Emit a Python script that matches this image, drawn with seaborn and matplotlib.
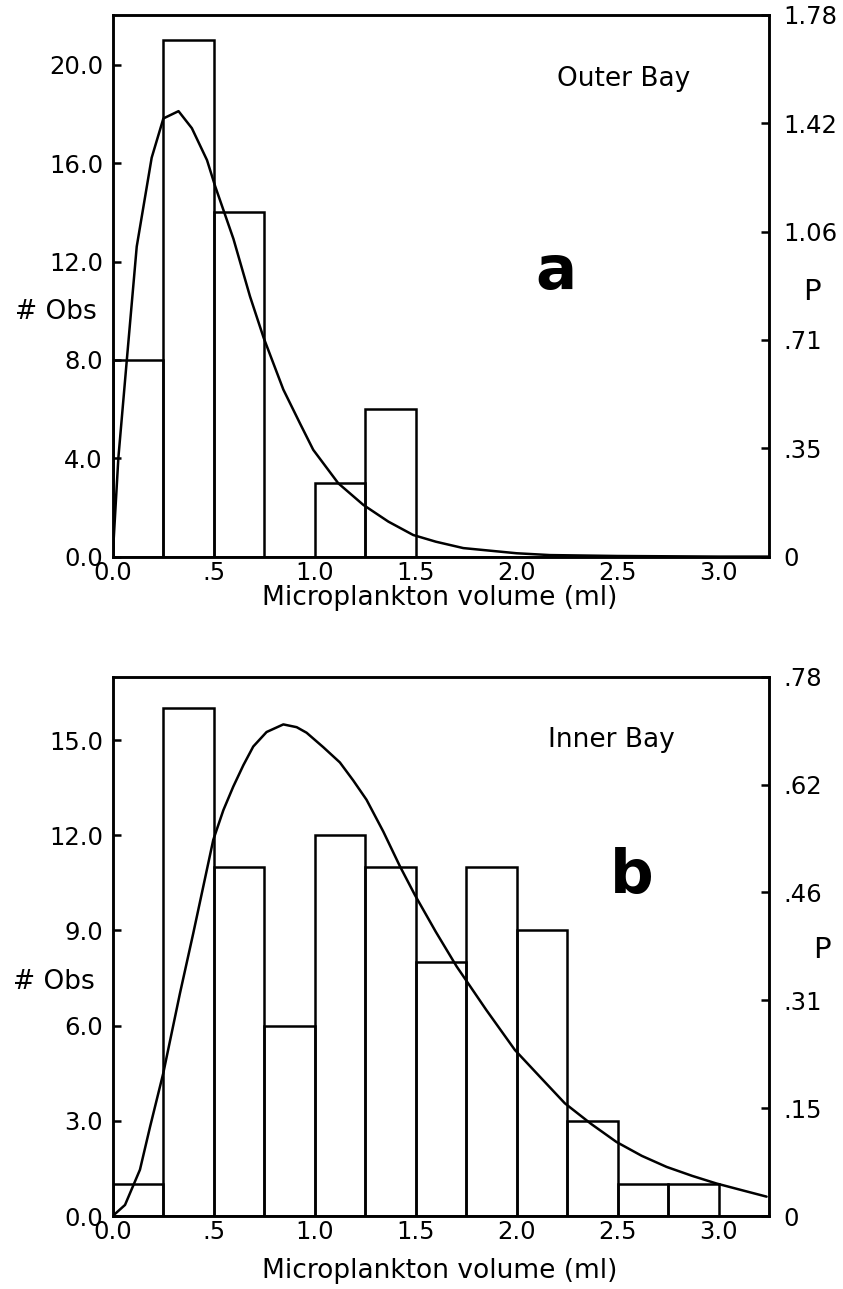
import numpy as np
import pandas as pd
import matplotlib
matplotlib.use("Agg")
import matplotlib.pyplot as plt
import seaborn as sns

# ---------------- data ----------------
bin_edges = [0.0, 0.25, 0.5, 0.75, 1.0, 1.25, 1.5, 1.75, 2.0, 2.25, 2.5, 2.75, 3.0, 3.25]
bin_centers = [0.125, 0.375, 0.625, 0.875, 1.125, 1.375, 1.625, 1.875, 2.125, 2.375, 2.625, 2.875, 3.125]

outer_counts = [8, 21, 14, 0, 3, 6, 0, 0, 0, 0, 0, 0, 0]
inner_counts = [1, 16, 11, 6, 12, 11, 8, 11, 9, 3, 1, 1, 0]

outer_curve_x = [0.0, 0.028, 0.07, 0.119, 0.193, 0.251, 0.326, 0.392, 0.467, 0.507, 0.598, 0.68,
                 0.747, 0.845, 0.928, 0.993, 1.117, 1.241, 1.365, 1.488, 1.6, 1.736, 2.0, 2.165,
                 2.5, 3.0, 3.25]
outer_curve_p = [0.0, 0.324, 0.647, 1.019, 1.311, 1.440, 1.464, 1.408, 1.303, 1.218, 1.044, 0.855,
                 0.720, 0.549, 0.437, 0.351, 0.241, 0.170, 0.115, 0.071, 0.049, 0.028, 0.011, 0.005,
                 0.002, 0.0, 0.0]

inner_curve_x = [0.0, 0.061, 0.135, 0.185, 0.25, 0.333, 0.399, 0.498, 0.548, 0.597, 0.647, 0.696,
                 0.762, 0.845, 0.911, 0.96, 1.043, 1.125, 1.191, 1.257, 1.340, 1.422, 1.497, 1.6,
                 1.703, 1.85, 1.992, 2.12, 2.239, 2.37, 2.495, 2.62, 2.743, 2.87, 2.99, 3.12, 3.238]
inner_curve_p = [0.0, 0.016, 0.067, 0.129, 0.206, 0.322, 0.409, 0.544, 0.587, 0.621, 0.652, 0.679,
                 0.700, 0.711, 0.707, 0.699, 0.678, 0.656, 0.630, 0.602, 0.556, 0.506, 0.464, 0.411,
                 0.361, 0.298, 0.240, 0.200, 0.163, 0.133, 0.107, 0.087, 0.071, 0.058, 0.047, 0.037,
                 0.028]

x_ticks = [0.0, 0.5, 1.0, 1.5, 2.0, 2.5, 3.0]
x_ticklabels = ["0.0", ".5", "1.0", "1.5", "2.0", "2.5", "3.0"]

outer_left_ticks = [0, 4, 8, 12, 16, 20]
outer_left_labels = ["0.0", "4.0", "8.0", "12.0", "16.0", "20.0"]
outer_right_ticks = [0, 0.356, 0.712, 1.068, 1.424, 1.78]
outer_right_labels = ["0", ".35", ".71", "1.06", "1.42", "1.78"]

inner_left_ticks = [0, 3, 6, 9, 12, 15]
inner_left_labels = ["0.0", "3.0", "6.0", "9.0", "12.0", "15.0"]
inner_right_ticks = [0, 0.156, 0.312, 0.468, 0.624, 0.78]
inner_right_labels = ["0", ".15", ".31", ".46", ".62", ".78"]

# ---------------- style ----------------
sns.set_theme(style="white")
plt.rcParams["font.family"] = ["DejaVu Sans"]

W, H = 843, 1289
fig = plt.figure(figsize=(W / 100, H / 100), dpi=100)
LW = 1.8
FS = 17.5
FS2 = 19


def fx(px):
    return px / W


def fy(py):
    return 1 - py / H


def panel(top_px, bottom_px, counts, ylim, lticks, llabels, cx, cp, rlim, rticks, rlabels):
    left_px, right_px = 112.7, 769.0
    ax = fig.add_axes([fx(left_px), fy(bottom_px), fx(right_px - left_px), (bottom_px - top_px) / H])
    df = pd.DataFrame({"x": bin_centers, "n": counts})
    sns.histplot(data=df, x="x", weights="n", bins=bin_edges, fill=False,
                 color="black", linewidth=LW, ax=ax)
    ax.set_xlim(0, 3.25)
    ax.set_ylim(*ylim)
    ax.set_xticks(x_ticks)
    ax.set_xticklabels(x_ticklabels)
    ax.set_yticks(lticks)
    ax.set_yticklabels(llabels)
    ax.set_xlabel("")
    ax.set_ylabel("")
    ax.tick_params(axis="both", direction="in", length=6, width=LW, color="black",
                   labelsize=FS, labelcolor="black")
    ax.tick_params(axis="x", pad=3)
    ax.tick_params(axis="y", pad=7)
    for s in ax.spines.values():
        s.set_color("black")
        s.set_linewidth(LW)
        s.set_visible(True)

    ax2 = ax.twinx()
    sns.lineplot(x=cx, y=cp, ax=ax2, color="black", linewidth=LW, sort=False, estimator=None)
    ax2.set_ylim(*rlim)
    ax2.set_yticks(rticks)
    ax2.set_yticklabels(rlabels)
    ax2.set_ylabel("")
    ax2.tick_params(axis="y", direction="in", length=6, width=LW, color="black",
                    labelsize=FS, labelcolor="black", pad=10)
    for s in ax2.spines.values():
        s.set_linewidth(LW)
        s.set_color("black")
    ax2.grid(False)
    ax.grid(False)
    return ax, ax2


panel(15, 556.6, outer_counts, (0, 22.03), outer_left_ticks, outer_left_labels,
      outer_curve_x, outer_curve_p, (0, 1.78), outer_right_ticks, outer_right_labels)
panel(676.7, 1216, inner_counts, (0, 17.0), inner_left_ticks, inner_left_labels,
      inner_curve_x, inner_curve_p, (0, 0.78), inner_right_ticks, inner_right_labels)

# ---------------- texts ----------------
txt = dict(color="black", ha="center", va="center")
fig.text(fx(440), fy(598), "Microplankton volume (ml)", fontsize=FS2, **txt)
fig.text(fx(440), fy(1271), "Microplankton volume (ml)", fontsize=FS2, **txt)
fig.text(fx(56), fy(312), "# Obs", fontsize=FS2, **txt)
fig.text(fx(54), fy(982), "# Obs", fontsize=FS2, **txt)
fig.text(fx(812), fy(292), "P", fontsize=FS2 + 2, **txt)
fig.text(fx(822), fy(950), "P", fontsize=FS2 + 2, **txt)
fig.text(fx(624), fy(79), "Outer Bay", fontsize=FS2, **txt)
fig.text(fx(611), fy(740), "Inner Bay", fontsize=FS2, **txt)
fig.text(fx(556), fy(272), "a", fontsize=44, fontweight="bold", **txt)
fig.text(fx(632), fy(876), "b", fontsize=44, fontweight="bold", **txt)

fig.savefig("out.png", dpi=100)
